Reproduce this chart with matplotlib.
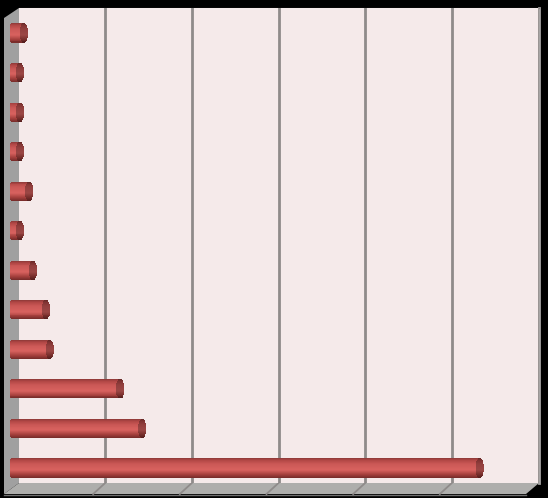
import numpy as np
import matplotlib
matplotlib.use("Agg")
import matplotlib.pyplot as plt
from matplotlib.patches import Polygon

# values, top bar first (gridlines every 100 units)
values = [16, 11.5, 11.5, 11.5, 22, 11.5, 26.5, 41.5, 46, 127, 152.5, 542]
grid_ticks = [100, 200, 300, 400, 500, 600]

W, H = 548, 498
X_MAX = 600
PX_PER_UNIT = 520 / X_MAX


def axes_px(fig, left, top, right, bottom):
    return fig.add_axes([left / W, 1 - bottom / H, (right - left) / W, (bottom - top) / H])


fig = plt.figure(figsize=(W / 100, H / 100), dpi=100, facecolor="black")

# box frame, in pixels
bg = axes_px(fig, 0, 0, W, H)
bg.set_xlim(0, W)
bg.set_ylim(H, 0)
bg.axis("off")
bg.add_patch(Polygon([(4, 18), (19, 8), (19, 483), (4, 494)], fc="#a0a0a0", ec="none"))
bg.add_patch(Polygon([(4, 494), (19, 483), (539, 483), (526, 494)], fc="#aeaeac", ec="none"))
bg.plot([4, 526], [494.5, 494.5], color="#6f6f6f", lw=1)

# back wall with gridlines
wall = axes_px(fig, 18.5, 8, 538.5, 483)
wall.set_facecolor("#f5eaea")
wall.set_xlim(0, X_MAX)
wall.set_ylim(0, 1)
wall.set_xticks([])
wall.set_yticks([])
for s in wall.spines.values():
    s.set_visible(False)
for t in grid_ticks:
    wall.axvline(t, color="#8f8b8a", lw=2)

# gridlines carry on across the floor
for t in grid_ticks[:-1]:
    x0 = 18.5 + t * PX_PER_UNIT
    bg.plot([x0, x0 - 12], [483, 494], color="#8f8b8a", lw=1.3, zorder=3)
bg.plot([539, 539], [8, 483], color="#a8a6a5", lw=2, zorder=3)
bg.plot([19, 539], [8, 8], color="#8a7f7f", lw=0.8, zorder=3)

# bars, plane sits a bit in front of the wall
ax = axes_px(fig, 10, 13.2, 530, 487.8)
ax.patch.set_alpha(0)
ax.set_xlim(0, X_MAX)
ax.set_ylim(11.5, -0.5)
ax.axis("off")

BAR_H = 0.48
CAP_W = 8 / PX_PER_UNIT
n_strips = 20
edges = np.linspace(-1, 1, n_strips + 1)
mids = (edges[:-1] + edges[1:]) / 2
stops = [0.0, 0.1, 0.3, 0.6, 0.82, 1.0]
shades = ["#8a3836", "#b04644", "#cb5856", "#d8625f", "#a5403d", "#742a28"]
rgb = np.array([matplotlib.colors.to_rgb(c) for c in shades])
strip_colors = [np.array([np.interp((m + 1) / 2, stops, rgb[:, k]) for k in range(3)]) for m in mids]

for i, v in enumerate(values):
    for m, c in zip(mids, strip_colors):
        # rounded end profile, softer than a true ellipse
        prof = (1 - abs(m) ** 2.4) ** (1 / 2.4)
        y = i + m * BAR_H / 2
        h = BAR_H / n_strips * 1.1
        start = CAP_W / 2 * (1 - prof) - 1.2
        ax.barh(y, CAP_W * prof, left=v - CAP_W / 2 * prof, height=h, color=c * 0.72, lw=0, zorder=2)
        ax.barh(y, v - CAP_W / 2 * prof - start, left=start, height=h, color=c, lw=0, zorder=3)

fig.savefig("out.png", dpi=100, facecolor="black")
